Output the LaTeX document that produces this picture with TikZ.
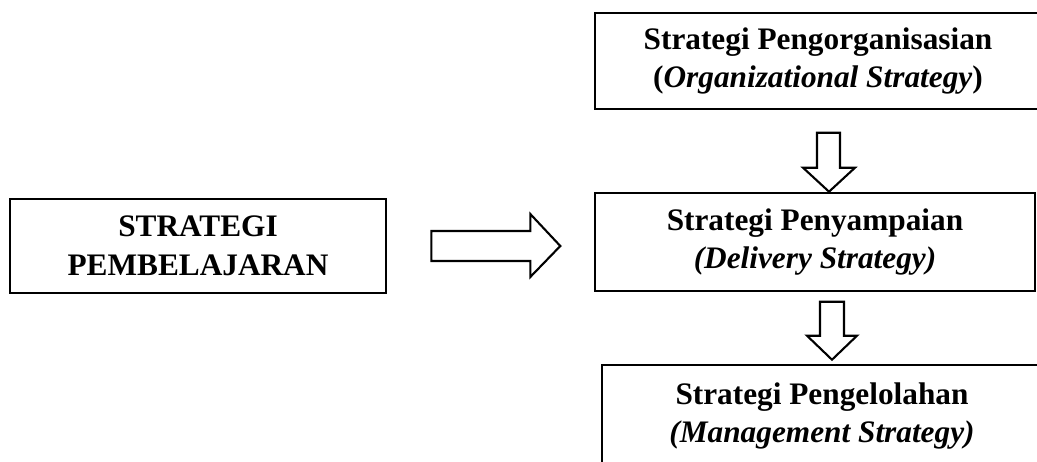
\documentclass[tikz,border=0pt]{standalone}
\usepackage{fontspec}
\setmainfont{Liberation Serif}
\usetikzlibrary{calc}

\tikzset{
	kotak/.style={draw, line width=2.6pt, align=center, inner sep=0pt,
		font=\fontsize{31.3}{38.5}\selectfont\bfseries},
	panah/.style={draw, line width=2.1pt, line join=miter, fill=white}
}

\begin{document}
\begin{tikzpicture}[x=1pt,y=-1pt]
	\useasboundingbox (0,0) rectangle (1037,461);
	\node [kotak, minimum width=376pt, minimum height=94pt] (pembelajaran) at (198,246) {STRATEGI \\ PEMBELAJARAN};
	\node [kotak, minimum width=446pt, minimum height=96pt] (organisasi) at (818,61) {Strategi Pengorganisasian \\ (\textit{Organizational Strategy})};
	\node [kotak, minimum width=440pt, minimum height=98pt] (penyampaian) at (815,242) {Strategi Penyampaian \\ \textit{(Delivery Strategy)}};
	\node [kotak, minimum width=440pt, minimum height=102pt] (pengelolaan) at (822,416) {Strategi Pengelolahan \\ \textit{(Management Strategy)}};
	% panah besar ke kanan
	\draw [panah] ($(pembelajaran.east)+(44,0)$) ++(0,-15) -- ++(99,0) -- ++(0,-17) -- ++(30,32) -- ++(-30,31) -- ++(0,-16) -- ++(-99,0) -- cycle;
	% panah ke bawah
	\draw [panah] ($(penyampaian.north)+(14,0)$) -- ++(-26,-24) -- ++(14,0) -- ++(0,-35) -- ++(23,0) -- ++(0,35) -- ++(15,0) -- cycle;
	\draw [panah] ($(pengelolaan.north)+(10,-4)$) -- ++(-25,-24) -- ++(13,0) -- ++(0,-34) -- ++(24,0) -- ++(0,34) -- ++(13,0) -- cycle;
\end{tikzpicture}
\end{document}
